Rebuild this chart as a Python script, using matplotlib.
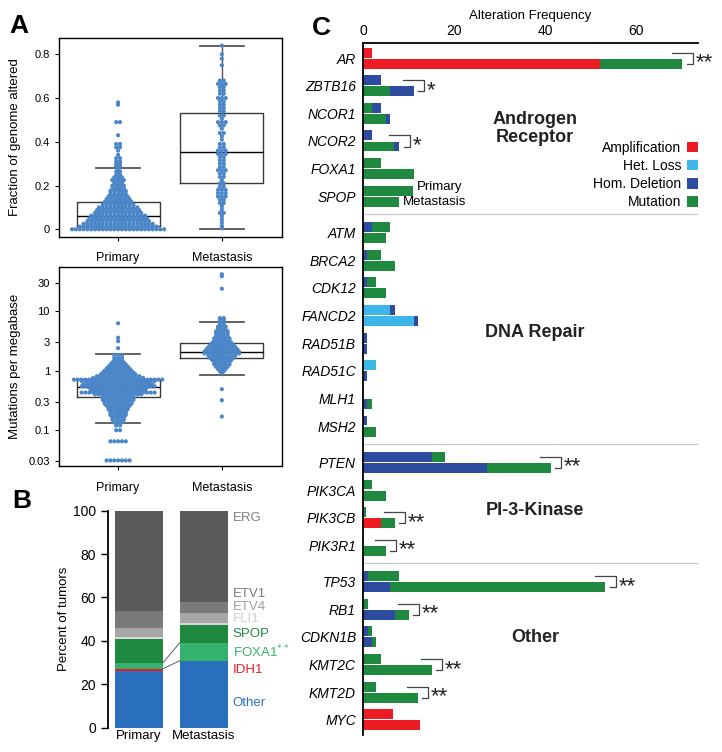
import matplotlib.pyplot as plt
from matplotlib.patches import Patch
import numpy as np

plt.rcParams['font.family'] = ['Liberation Sans', 'DejaVu Sans']

# ---------------- Panel A: swarm rows (value, number of dots) ----------------
fga_prim_vals = [0.0, 0.0125, 0.025, 0.0375, 0.05, 0.0625, 0.075, 0.0875, 0.10, 0.1125,
                 0.125, 0.1375, 0.15, 0.1625, 0.175, 0.1875, 0.20, 0.2125, 0.225, 0.2375,
                 0.25, 0.265, 0.28, 0.29, 0.30, 0.31, 0.325, 0.34, 0.36, 0.375, 0.39,
                 0.43, 0.49, 0.57, 0.58]
fga_prim_counts = [25, 21, 19, 17, 16, 15, 13, 12, 11, 9,
                   8, 7, 6, 5, 5, 4, 4, 3, 4, 3,
                   2, 2, 1, 2, 2, 2, 2, 1, 1, 2, 2,
                   1, 2, 1, 1]
fga_met_vals = [0.005, 0.015, 0.03, 0.045, 0.06, 0.075, 0.09, 0.105, 0.12, 0.135,
                0.15, 0.165, 0.18, 0.195, 0.21, 0.225, 0.24, 0.255, 0.27, 0.285,
                0.30, 0.315, 0.33, 0.345, 0.36, 0.375, 0.39, 0.41, 0.425, 0.44,
                0.46, 0.475, 0.49, 0.505, 0.52, 0.54, 0.555, 0.57, 0.585, 0.60,
                0.62, 0.635, 0.65, 0.665, 0.68, 0.75, 0.78, 0.80, 0.84]
fga_met_counts = [1, 1, 1, 1, 1, 2, 1, 1, 2, 2,
                  3, 3, 3, 2, 2, 1, 2, 2, 3, 2,
                  2, 2, 2, 3, 3, 2, 2, 1, 1, 2,
                  1, 2, 3, 1, 2, 2, 2, 2, 2, 3,
                  2, 2, 2, 3, 2, 1, 1, 1, 1]

tmb_prim_vals = [6.3, 3.6, 3.15, 2.4, 1.85, 1.65, 1.5, 1.38, 1.27, 1.17, 1.08, 1.0,
                 0.93, 0.87, 0.81, 0.76, 0.71, 0.67, 0.63, 0.59, 0.55, 0.52, 0.49,
                 0.46, 0.43, 0.40, 0.375, 0.35, 0.325, 0.30, 0.28, 0.26, 0.24, 0.225,
                 0.21, 0.195, 0.18, 0.165, 0.15, 0.135, 0.12, 0.1, 0.065, 0.031]
tmb_prim_counts = [1, 1, 1, 1, 3, 3, 3, 4, 5, 6, 7, 8,
                   9, 10, 12, 14, 24, 20, 17, 19, 20, 16, 15,
                   15, 20, 13, 9, 9, 9, 8, 8, 7, 6, 6,
                   5, 5, 5, 4, 4, 3, 2, 2, 5, 7]
tmb_met_vals = [42, 39, 24, 7.7, 7.2, 6.6, 6.0, 5.5, 5.0, 4.6, 4.2, 3.85, 3.5, 3.2,
                2.95, 2.7, 2.5, 2.3, 2.1, 1.95, 1.8, 1.65, 1.52, 1.4, 1.28, 1.17,
                1.07, 0.98, 0.9, 0.49, 0.32, 0.17]
tmb_met_counts = [1, 1, 1, 2, 2, 2, 2, 3, 3, 4, 4, 4, 5, 5,
                  6, 7, 8, 9, 10, 10, 8, 7, 6, 5, 5, 4,
                  3, 2, 1, 1, 1, 1]

# box statistics (q1, median, q3, whisker low, whisker high)
fga_boxes = [(0.0165, 0.062, 0.123, 0.0, 0.282), (0.212, 0.352, 0.532, 0.003, 0.839)]
tmb_boxes = [(0.366, 0.526, 0.72, 0.13, 1.89), (1.65, 2.09, 2.89, 0.857, 6.66)]

# ---------------- Panel B ----------------
b_cats = ['Other', 'IDH1', 'FOXA1', 'SPOP', 'FLI1', 'ETV4', 'ETV1', 'ERG']
b_labels = ['Other', 'IDH1', 'FOXA1$^{**}$', 'SPOP', 'FLI1', 'ETV4', 'ETV1', 'ERG']
b_prim = [26.0, 1.2, 2.8, 11.0, 0.9, 3.9, 8.1, 46.1]
b_met = [30.9, 0.0, 8.3, 8.1, 1.1, 4.6, 5.1, 41.9]
b_colors = ['#2a6fbe', '#ed1c24', '#35b26b', '#1f8a3f', '#d9d9d9', '#a6a6a6', '#7a7a7a', '#5a5a5a']
b_textcol = ['#2a6fbe', '#ed1c24', '#35b26b', '#1f8a3f', '#d0d0d0', '#a0a0a0', '#7a7a7a', '#808080']
b_label_y = [11.4, 26.5, 35.0, 43.0, 50.0, 55.8, 61.8, 96.5]

# ---------------- Panel C ----------------
genes = ['AR', 'ZBTB16', 'NCOR1', 'NCOR2', 'FOXA1', 'SPOP',
         'ATM', 'BRCA2', 'CDK12', 'FANCD2', 'RAD51B', 'RAD51C', 'MLH1', 'MSH2',
         'PTEN', 'PIK3CA', 'PIK3CB', 'PIK3R1',
         'TP53', 'RB1', 'CDKN1B', 'KMT2C', 'KMT2D', 'MYC']
group_sizes = [6, 8, 4, 6]
group_names = ['Androgen\nReceptor', 'DNA Repair', 'PI-3-Kinase', 'Other']

prim_amp =    [2.0, 0, 0, 0, 0, 0,  0, 0, 0, 0, 0, 0, 0, 0,  0, 0, 0, 0,  0, 0, 0, 0, 0, 6.5]
met_amp =     [52.0, 0, 0, 0, 0, 0,  0, 0, 0, 0, 0, 0, 0, 0,  0, 0, 4.0, 0,  0, 0, 0, 0, 0, 12.6]
prim_het =    [0, 0, 0, 0, 0, 0,  0, 0, 0, 6.0, 0, 2.9, 0, 0,  0, 0, 0, 0,  0, 0, 0, 0, 0, 0]
met_het =     [0, 0, 0, 0, 0, 0,  0, 0, 0, 11.1, 0, 0, 0, 0,  0, 0, 0, 0,  0, 0, 0, 0, 0, 0]
prim_homdel = [0, 4.0, 2.0, 2.0, 0, 0,  2.0, 0.9, 0.9, 1.0, 0.9, 0, 0, 0.9,
               15.1, 0, 0, 0,  1.0, 0, 1.0, 0, 0, 0]
met_homdel =  [0, 5.1, 0.9, 1.1, 0, 0,  0, 0, 0, 0.9, 0.9, 0.9, 0.9, 0,
               27.2, 0, 0, 0,  6.0, 7.0, 2.0, 0, 0, 0]
prim_mut =    [0, 0, 2.0, 0, 4.0, 11.0,  4.0, 3.1, 2.0, 0, 0, 0, 0, 0,
               2.9, 2.0, 0.6, 0,  7.0, 1.0, 1.0, 4.0, 2.9, 0]
met_mut =     [18.0, 6.0, 5.1, 6.9, 11.1, 8.0,  5.0, 7.0, 5.0, 0, 0, 0, 1.1, 2.9,
               14.0, 5.0, 3.0, 5.0,  47.1, 3.0, 0.9, 15.1, 12.0, 0]
sig_marks = ['**', '*', '', '*', '', '',  '', '', '', '', '', '', '', '',
             '**', '', '**', '**',  '**', '**', '', '**', '**', '']

alt_names = ['Amplification', 'Het. Loss', 'Hom. Deletion', 'Mutation']
alt_colors = {'Amplification': '#ed1c24', 'Het. Loss': '#3db7ea',
              'Hom. Deletion': '#2d4b9f', 'Mutation': '#1f8a3f'}

dot_color = '#4a86c8'

fig = plt.figure(figsize=(7.22, 7.52), dpi=100)


def swarm(ax, x0, vals, counts, dx):
    xs, ys = [], []
    for v, n in zip(vals, counts):
        off = (np.arange(n) - (n - 1) / 2.0) * dx
        xs.extend(x0 + off)
        ys.extend([v] * n)
    ax.scatter(xs, ys, s=9, color=dot_color, edgecolors='none', zorder=3)


def boxes(ax, stats):
    st = [dict(q1=b[0], med=b[1], q3=b[2], whislo=b[3], whishi=b[4], fliers=[]) for b in stats]
    ax.bxp(st, positions=[0, 1], widths=0.8, showfliers=False, capwidths=0.42,
           boxprops=dict(color='#3a3a3a', lw=1.0),
           medianprops=dict(color='black', lw=1.0),
           whiskerprops=dict(color='#555555', lw=1.0),
           capprops=dict(color='#555555', lw=1.3))


def style_a(ax, ylabel):
    ax.set_xlim(-0.57, 1.58)
    ax.set_xticks([0, 1])
    ax.set_xticklabels(['Primary', 'Metastasis'], fontsize=9)
    ax.tick_params(axis='x', length=3, pad=8)
    ax.tick_params(axis='y', labelsize=8, length=3)
    ax.set_ylabel(ylabel, fontsize=9.5)
    ax.yaxis.set_label_coords(-0.17, 0.5)
    for s in ax.spines.values():
        s.set_linewidth(1.0)


# A top: fraction of genome altered
axA1 = fig.add_axes([0.0817, 0.6852, 0.3089, 0.2638])
boxes(axA1, fga_boxes)
swarm(axA1, 0, fga_prim_vals, fga_prim_counts, 0.037)
swarm(axA1, 1, fga_met_vals, fga_met_counts, 0.037)
axA1.set_ylim(-0.034, 0.873)
axA1.set_yticks([0, 0.2, 0.4, 0.6, 0.8])
axA1.set_yticklabels(['0', '0.2', '0.4', '0.6', '0.8'])
style_a(axA1, 'Fraction of genome altered')

# A bottom: mutations per megabase
axA2 = fig.add_axes([0.0817, 0.3799, 0.3089, 0.2646])
boxes(axA2, tmb_boxes)
swarm(axA2, 0, tmb_prim_vals, tmb_prim_counts, 0.037)
swarm(axA2, 1, tmb_met_vals, tmb_met_counts, 0.037)
axA2.set_yscale('log')
axA2.set_ylim(0.0247, 55)
axA2.set_yticks([0.03, 0.1, 0.3, 1, 3, 10, 30])
axA2.set_yticklabels(['0.03', '0.1', '0.3', '1', '3', '10', '30'])
axA2.yaxis.set_minor_locator(plt.NullLocator())
style_a(axA2, 'Mutations per megabase')

# B: stacked bars
axB = fig.add_axes([0.1496, 0.0323, 0.1717, 0.2886])
bw = 0.74
bot_p, bot_m = 0.0, 0.0
cum_p, cum_m = [0.0], [0.0]
for cat, vp, vm, col in zip(b_cats, b_prim, b_met, b_colors):
    axB.bar(0, vp, bw, bottom=bot_p, color=col, linewidth=0)
    axB.bar(1, vm, bw, bottom=bot_m, color=col, linewidth=0)
    bot_p += vp
    bot_m += vm
    cum_p.append(bot_p)
    cum_m.append(bot_m)
# lines linking the FOXA1 band
for k in [2, 3]:
    axB.plot([bw / 2, 1 - bw / 2], [cum_p[k], cum_m[k]], color='#444444', lw=0.6)
for lab, ly, tc in zip(b_labels, b_label_y, b_textcol):
    axB.text(1.44, ly, lab, color=tc, fontsize=9.5, va='center', clip_on=False)
axB.set_xlim(-0.477, 1.43)
axB.set_ylim(0, 100)
axB.set_yticks([0, 20, 40, 60, 80, 100])
axB.tick_params(axis='y', labelsize=10, length=5, width=1)
axB.set_xticks([0, 1])
axB.set_xticklabels(['Primary', 'Metastasis'], fontsize=9.5)
axB.tick_params(axis='x', length=0, pad=2)
for side in ['top', 'right', 'bottom']:
    axB.spines[side].set_visible(False)
axB.spines['left'].set_linewidth(1.3)
axB.set_ylabel('Percent of tumors', fontsize=9.5)
axB.yaxis.set_label_coords(-0.31, 0.5)

# C: alteration frequency per gene
axC = fig.add_axes([0.5028, 0.0226, 0.464, 0.920])
gap = 0.315
pos = []
gi = []
for g, n in enumerate(group_sizes):
    start = len(pos)
    for i in range(n):
        pos.append(start + i + g * gap)
        gi.append(g)
pos = np.array(pos)

prim = {'Amplification': prim_amp, 'Het. Loss': prim_het,
        'Hom. Deletion': prim_homdel, 'Mutation': prim_mut}
met = {'Amplification': met_amp, 'Het. Loss': met_het,
       'Hom. Deletion': met_homdel, 'Mutation': met_mut}
order_ar = ['Amplification', 'Mutation', 'Het. Loss', 'Hom. Deletion']
order_other = ['Amplification', 'Het. Loss', 'Hom. Deletion', 'Mutation']
bh = 0.36
tot_p = np.zeros(len(genes))
tot_m = np.zeros(len(genes))
for j in range(len(genes)):
    order = order_ar if gi[j] == 0 else order_other
    for name in order:
        vp = prim[name][j]
        vm = met[name][j]
        if vp > 0:
            axC.barh(pos[j] - 0.2, vp, bh, left=tot_p[j], color=alt_colors[name], linewidth=0)
            tot_p[j] += vp
        if vm > 0:
            axC.barh(pos[j] + 0.2, vm, bh, left=tot_m[j], color=alt_colors[name], linewidth=0)
            tot_m[j] += vm

# significance brackets
for j, mark in enumerate(sig_marks):
    if not mark:
        continue
    xr = max(tot_p[j], tot_m[j]) + 2.3
    axC.plot([xr - 4.6, xr, xr, xr - 1.3], [pos[j] - 0.2, pos[j] - 0.2, pos[j] + 0.2, pos[j] + 0.2],
             color='#444444', lw=0.9)
    axC.text(xr + 0.6, pos[j] + 0.17, mark, fontsize=16, ha='left', va='center', color='#222222')

# group separators and titles
ends = np.cumsum(group_sizes)
for g in range(len(group_sizes) - 1):
    ysep = (pos[ends[g] - 1] + pos[ends[g]]) / 2
    axC.axhline(ysep, color='#c8c8c8', lw=0.9, xmin=0, xmax=1.0)
title_y = [2.54, 9.92, 16.36, 20.95]
for name, ty in zip(group_names, title_y):
    axC.text(37.7, ty, name, fontsize=13, fontweight='bold', ha='center', va='center',
             color='#222222', linespacing=1.05)

# Primary / Metastasis hint next to SPOP
sp = genes.index('SPOP')
axC.text(tot_p[sp] + 0.8, pos[sp] - 0.32, 'Primary', fontsize=9.5, va='center')
axC.text(tot_m[sp] + 0.8, pos[sp] + 0.22, 'Metastasis', fontsize=9.5, va='center')

handles = [Patch(facecolor=alt_colors[n], edgecolor='none', label=n) for n in alt_names]
axC.legend(handles=handles, loc='upper right', bbox_to_anchor=(1.0, 0.859), frameon=False,
           markerfirst=False, fontsize=10, borderpad=0, borderaxespad=0,
           handlelength=0.8, handleheight=0.8, handletextpad=0.4, labelspacing=0.3)

axC.set_xlim(0, 73.5)
axC.set_ylim(pos[-1] + 0.55, -0.54)
axC.set_yticks(pos)
axC.set_yticklabels(genes, fontsize=10, style='italic')
axC.tick_params(axis='y', length=0, pad=5)
axC.xaxis.tick_top()
axC.xaxis.set_label_position('top')
axC.set_xticks([0, 20, 40, 60])
axC.tick_params(axis='x', labelsize=10, length=0, pad=4)
axC.set_xlabel('Alteration Frequency', fontsize=9.5, labelpad=3)
axC.spines['right'].set_visible(False)
axC.spines['bottom'].set_visible(False)
axC.spines['top'].set_linewidth(1.3)
axC.spines['left'].set_linewidth(1.3)

# panel letters
fig.text(0.013, 0.965, 'A', fontsize=19, fontweight='bold', va='center')
fig.text(0.017, 0.334, 'B', fontsize=19, fontweight='bold', va='center')
fig.text(0.432, 0.963, 'C', fontsize=19, fontweight='bold', va='center')

fig.savefig('out.png', dpi=100)
